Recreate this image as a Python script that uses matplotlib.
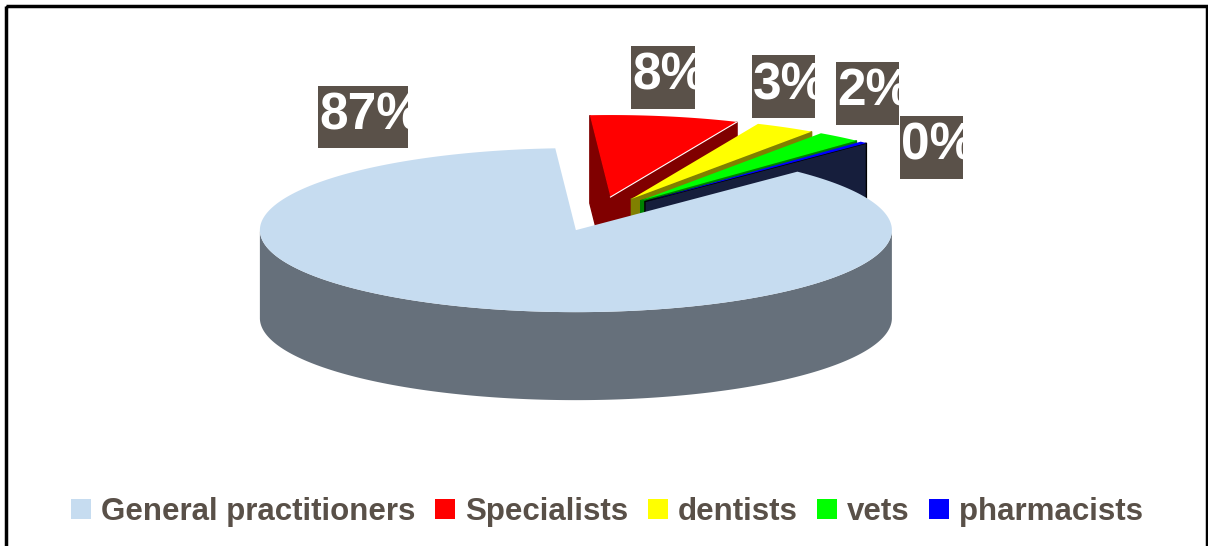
import numpy as np
import matplotlib.pyplot as plt
from matplotlib.patches import Polygon, Rectangle, Patch

# ── Data ──────────────────────────────────────────────────────────────────────
CATEGORIES = ['General practitioners', 'Specialists', 'dentists', 'vets', 'pharmacists']
SHARES = [86.6, 7.6, 3.1, 2.3, 0.4]
EXPLODE = [0.21, 0.21, 0.21, 0.21, 0.21]

# ── Style ─────────────────────────────────────────────────────────────────────
TOP_COLORS = ['#C6DCF0', '#FF0000', '#FFFF00', '#00FF00', '#0000FF']
SIDE_COLORS = ['#66707B', '#800000', '#808000', '#008000', '#161E3C']
SIDE_EDGES = ['#66707B', '#800000', '#808000', '#008000', '#000000']
LEGEND_COLORS = ['#C6DCF0', '#FF0000', '#FFFF00', '#00FF00', '#0000FF']
TEXT_COLOR = '#595048'
BOX_COLOR = '#5A5149'
FONT = 'Liberation Sans'

# label boxes (left, top, width, height) in pixels
LABEL_BOXES = [(318, 86, 90, 62), (631, 46, 64, 63), (752, 55, 63, 63),
               (836, 62, 63, 63), (900, 116, 63, 63)]

# pie geometry in pixels
CX, CY = 599, 214
RX, RY = 316, 82
DEPTH = 88
START = 45.5          # first slice starts here and runs clockwise


def pt(a, ox, oy):
    r = np.radians(a)
    return ox + RX * np.cos(r), oy - RY * np.sin(r)


fig = plt.figure(figsize=(12.08, 5.46), dpi=100)
ax = fig.add_axes([0, 0, 1, 1])
ax.set_xlim(0, 1208)
ax.set_ylim(546, 0)
ax.axis('off')

shares = np.array(SHARES)
spans = shares / shares.sum() * 360
a1s = START - np.concatenate([[0], np.cumsum(spans)[:-1]])
a0s = a1s - spans

# slices at the back first, the big one last
order = [1, 2, 3, 4, 0]
for i in order:
    a0, a1 = a0s[i], a1s[i]
    mid = np.radians((a0 + a1) / 2)
    ox = CX + EXPLODE[i] * RX * np.cos(mid)
    oy = CY - EXPLODE[i] * RY * np.sin(mid)

    # radial faces
    for a, visible in ((a1, np.cos(np.radians(a1)) < 0),
                       (a0, np.cos(np.radians(a0)) > 0)):
        if not visible:
            continue
        ex, ey = pt(a, ox, oy)
        quad = [(ox, oy), (ex, ey), (ex, ey + DEPTH), (ox, oy + DEPTH)]
        ax.add_patch(Polygon(quad, closed=True, fc=SIDE_COLORS[i],
                             ec=SIDE_EDGES[i], lw=1))

    # outer wall (front half only)
    t = np.linspace(a0, a1, 600)
    front = np.sin(np.radians(t)) < 0
    if front.any():
        tf = t[front]
        xs, ys = pt(tf, ox, oy)
        wall = list(zip(xs, ys)) + list(zip(xs[::-1], ys[::-1] + DEPTH))
        ax.add_patch(Polygon(wall, closed=True, fc=SIDE_COLORS[i],
                             ec='none'))

    # top face
    xs, ys = pt(t, ox, oy)
    top = [(ox, oy)] + list(zip(xs, ys))
    ax.add_patch(Polygon(top, closed=True, fc=TOP_COLORS[i], ec='none'))
    if i == 1:
        ex, ey = pt(a0, ox, oy)
        ax.plot([ox, ex], [oy, ey], color='white', lw=0.8)

# data labels
for i, (bx, by, bw, bh) in enumerate(LABEL_BOXES):
    box = Rectangle((bx, by), bw, bh, fc=BOX_COLOR, ec='none')
    ax.add_patch(box)
    pct = round(shares[i] / shares.sum() * 100)
    txt = ax.text(bx + 1, by + bh / 2 - 1, f'{pct}%', color='white',
                  fontsize=37, fontweight='bold', family=FONT,
                  ha='left', va='center')
    txt.set_clip_path(box)

# legend
handles = [Patch(fc=c, ec='none') for c in LEGEND_COLORS]
ax.legend(handles, CATEGORIES, loc='center', bbox_to_anchor=(607, 512),
          bbox_transform=ax.transData, ncol=5, frameon=False,
          prop=dict(family=FONT, weight='bold', size=22.5),
          labelcolor=TEXT_COLOR, handlelength=0.64, handleheight=0.64,
          handletextpad=0.32, columnspacing=0.62, borderpad=0,
          borderaxespad=0)

# chart frame
ax.add_patch(Rectangle((6, 6), 1201, 570, fill=False, ec='black', lw=2.5,
                       clip_on=False))

fig.savefig('out.png', dpi=100)
